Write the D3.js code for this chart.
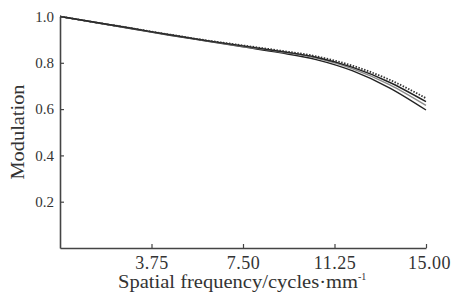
<!DOCTYPE html>
<html>
<head>
<meta charset="utf-8">
<script src="https://cdn.jsdelivr.net/npm/d3@7"></script>
<style>
  body { margin: 0; background: #fff; }
  svg { display: block; font-family: "Liberation Serif", "DejaVu Serif", serif; }
</style>
</head>
<body>
<div id="viz-container"></div>
<script>
// spatial frequency samples (cycles/mm)
let freq = [0, 1.5, 3, 4.5, 6, 7.5, 9, 10.5, 12, 13.5, 15];
// modulation of each field
let mtfDotted = [1.0, 0.974, 0.948, 0.922, 0.897, 0.875, 0.853, 0.828, 0.787, 0.727, 0.647];
let mtfSolid1 = [1.0, 0.974, 0.948, 0.921, 0.896, 0.873, 0.850, 0.824, 0.780, 0.716, 0.632];
let mtfGray   = [1.0, 0.973, 0.947, 0.920, 0.895, 0.871, 0.848, 0.820, 0.774, 0.706, 0.616];
let mtfSolid2 = [1.0, 0.973, 0.946, 0.919, 0.894, 0.869, 0.844, 0.814, 0.765, 0.692, 0.596];
let xTicks = [3.75, 7.5, 11.25, 15];
let yTicks = [0.2, 0.4, 0.6, 0.8, 1.0];

let w = 451, h = 294;
let viz = d3.select("#viz-container")
    .append("svg")
    .attr('width', w)
    .attr('height', h);

let x = d3.scaleLinear().domain([0, 15]).range([60, 426]);
let y = d3.scaleLinear().domain([0, 1]).range([248, 16.5]);

let series = [
    { values: mtfSolid2, color: '#222', width: 1.4, dash: null },
    { values: mtfGray, color: '#8a8a8a', width: 1.4, dash: null },
    { values: mtfSolid1, color: '#222', width: 1.4, dash: null },
    { values: mtfDotted, color: '#333', width: 1.8, dash: '1.5,1.5' }
];

let line = d3.line()
    .x((d, i) => x(freq[i]))
    .y(d => y(d))
    .curve(d3.curveMonotoneX);

viz.selectAll('path.mtf').data(series).enter()
    .append('path')
    .attr('class', 'mtf')
    .attr('d', d => line(d.values))
    .attr('fill', 'none')
    .attr('stroke', d => d.color)
    .attr('stroke-width', d => d.width)
    .attr('stroke-dasharray', d => d.dash);

// axes, ticks point inwards
let xAxis = d3.axisBottom(x).tickValues(xTicks).tickSize(-4).tickSizeOuter(0)
    .tickFormat(d3.format('.2f'));
let yAxis = d3.axisLeft(y).tickValues(yTicks).tickSize(-4).tickSizeOuter(0)
    .tickFormat(d3.format('.1f'));

let gx = viz.append('g').attr('transform', 'translate(0,248)').call(xAxis);
let gy = viz.append('g').attr('transform', 'translate(60,0)').call(yAxis);

[gx, gy].forEach(g => {
    g.select('.domain').attr('stroke', '#444').attr('stroke-width', 1.6);
    g.selectAll('.tick line').attr('stroke', '#444').attr('stroke-width', 1.2);
    g.selectAll('.tick text').attr('fill', '#333').attr('font-family', '"Liberation Serif", serif');
});
gx.selectAll('.tick text').attr('font-size', 18).attr('y', 8).attr('dy', '0.71em')
    .attr('letter-spacing', 0.5);
gx.selectAll('.tick').filter(d => d == 15).select('text').attr('dx', 3);
gy.selectAll('.tick text').attr('font-size', 15).attr('x', -6);

// axis titles
let xt = viz.append('text')
    .attr('x', 118)
    .attr('y', 288)
    .attr('font-size', 18)
    .attr('fill', '#333');
xt.append('tspan')
    .attr('textLength', 240)
    .attr('lengthAdjust', 'spacingAndGlyphs')
    .text('Spatial frequency/cycles·mm');
xt.append('tspan')
    .attr('font-size', 10)
    .attr('dy', -8)
    .text('-1');

viz.append('text')
    .attr('transform', 'translate(24,132) rotate(-90)')
    .attr('text-anchor', 'middle')
    .attr('font-size', 18)
    .attr('fill', '#333')
    .attr('textLength', 95)
    .attr('lengthAdjust', 'spacingAndGlyphs')
    .text('Modulation');
</script>
</body>
</html>
